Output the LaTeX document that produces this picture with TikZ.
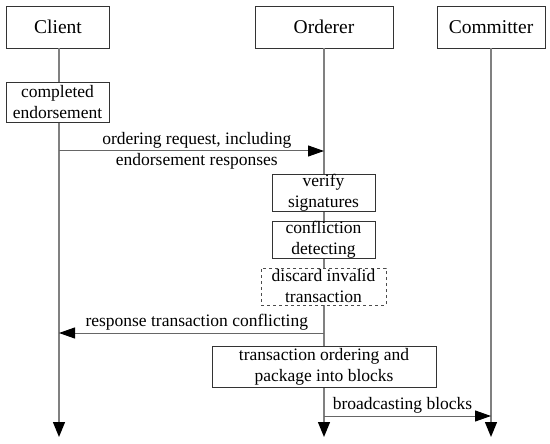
\documentclass[tikz,border=0pt]{standalone}
\usepackage{fontspec}
\setmainfont{Liberation Serif}
\usetikzlibrary{arrows.meta}

\begin{document}
\begin{tikzpicture}[x=1pt, y=-1pt,
    actor/.style={rectangle, draw=black!80, fill=white, inner sep=0pt,
        minimum height=42pt, font=\fontsize{19.5}{22}\selectfont},
    task/.style={rectangle, draw=black!80, fill=white, inner sep=0pt,
        align=center, font=\fontsize{17.5}{21}\selectfont},
    msgtext/.style={inner sep=0pt, font=\fontsize{17.5}{21}\selectfont},
    lifeline/.style={draw=black!50, line width=1.3pt,
        -{Triangle[length=15pt, width=12pt, color=black]}},
    msg/.style={draw=black!60, line width=1pt,
        -{Triangle[length=16pt, width=11pt, color=black]}}]
    \useasboundingbox (0,0) rectangle (550,444);

    % Draw actors
    \node[actor, minimum width=103pt] (client) at (58,27) {Client};
    \node[actor, minimum width=138pt] (orderer) at (324,27) {Orderer};
    \node[actor, minimum width=108pt] (committer) at (491,27) {Committer};

    % Lifeline ends
    \coordinate (client-end) at (59,437);
    \coordinate (orderer-end) at (324,437);
    \coordinate (committer-end) at (491,437);

    % Draw lifelines
    \draw[lifeline] (client.south -| client-end) -- (client-end);
    \draw[lifeline] (orderer.south) -- (orderer-end);
    \draw[lifeline] (committer.south) -- (committer-end);

    % Draw tasks
    \node[task, minimum width=103pt, minimum height=40pt] (endorsed) at (57.5,102)
        {completed\\endorsement};
    \node[task, minimum width=103pt, minimum height=37pt] (verify) at (323.5,192.5)
        {verify\\signatures};
    \node[task, minimum width=103pt, minimum height=37pt] (detect) at (323.5,239.5)
        {confliction\\detecting};
    \node[task, dashed, draw=black!70, minimum width=125pt, minimum height=37pt] (discard)
        at (323.5,286.5) {discard invalid\\transaction};
    \node[task, minimum width=224pt, minimum height=41pt] (pack) at (324,366.5)
        {transaction ordering and\\package into blocks};

    % Message points
    \coordinate (req-from) at (59,151);
    \coordinate (req-to) at (324,151);
    \coordinate (resp-from) at (324,333);
    \coordinate (resp-to) at (59,333);
    \coordinate (bcast-from) at (324,416);
    \coordinate (bcast-to) at (491,416);

    % Draw messages
    \draw[msg] (req-from) -- (req-to)
        node[msgtext, pos=0.52, above=2pt] (reqtop) {ordering request, including}
        node[msgtext, pos=0.52, below=2pt] (reqbot) {endorsement responses};
    \draw[msg] (resp-from) -- (resp-to)
        node[msgtext, pos=0.48, above=2pt] (resplabel) {response transaction conflicting};
    \draw[msg] (bcast-from) -- (bcast-to)
        node[msgtext, pos=0.47, above=2.5pt] (bcastlabel) {broadcasting blocks};
\end{tikzpicture}
\end{document}
